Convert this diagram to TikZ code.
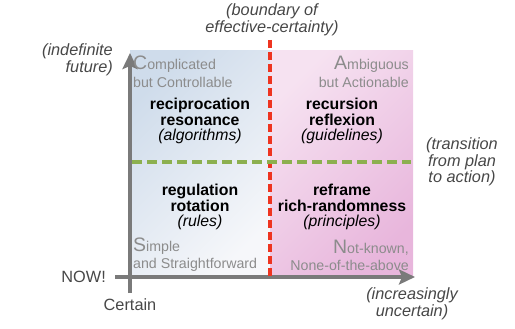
\documentclass[tikz,border=0pt]{standalone}
\usepackage{fontspec}
\setmainfont{Liberation Sans}
\usetikzlibrary{arrows.meta,positioning}
\definecolor{axisgray}{HTML}{7A7A7A}
\definecolor{notegray}{HTML}{474747}
\definecolor{zonegray}{HTML}{8C8C8C}
\definecolor{edgered}{HTML}{EE3420}
\definecolor{plangreen}{HTML}{8CB04F}
\definecolor{certblue}{HTML}{CFDCEB}
\definecolor{certwhite}{HTML}{F6F7FA}
\definecolor{vaguepink}{HTML}{E8B6DC}
\definecolor{palepink}{HTML}{F6E2F1}
\newcommand\zonecap[1]{{\fontsize{19.5}{17.5}\selectfont #1}}

\begin{document}
\begin{tikzpicture}[x=1pt, y=-1pt,
  note/.style={font=\fontsize{16.3}{16.5}\selectfont\itshape, text=notegray, align=center, inner sep=0pt},
  zone/.style={font=\fontsize{14.2}{17.5}\selectfont, text=zonegray, inner sep=0pt},
  move/.style={font=\fontsize{15.8}{15.5}\selectfont\bfseries, align=center, inner sep=0pt},
  axis/.style={line width=4pt, axisgray, -{Stealth[length=16pt, width=15pt, inset=3pt]}},
  cut/.style={line width=3.2pt, dash pattern=on 8pt off 4pt}]
  \useasboundingbox (0,0) rectangle (515,329);

  % the two halves of the field
  \shade[top color=certblue, bottom color=certwhite, shading angle=45] (130,51) rectangle (270,277);
  \shade[top color=palepink, bottom color=vaguepink, shading angle=45] (270,51) rectangle (413,277);

  % axes
  \coordinate (origin) at (130,277);
  \coordinate (vbot) at (130,293);
  \coordinate (vtop) at (130,53);
  \coordinate (hleft) at (115,277);
  \coordinate (hright) at (415,277);
  \draw[axis] (vbot) -- (vtop);
  \draw[axis] (hleft) -- (hright);

  % boundaries
  \coordinate (redtop) at (270,40);
  \coordinate (redbot) at (270,276);
  \coordinate (greenl) at (132,162);
  \coordinate (greenr) at (411,162);
  \draw[cut, edgered] (redtop) -- (redbot);
  \draw[cut, plangreen, dash pattern=on 10pt off 5pt] (greenl) -- (greenr);

  % axis notes
  \node[note] (bound) at (272,20) {(boundary of\\effective-certainty)};
  \node[note, align=right, anchor=east] (future) at (113,60) {(indefinite\\future)};
  \node[note] (trans) at (462,162) {(transition\\from plan\\to action)};
  \node[note] (uncert) at (412,304) {(increasingly\\uncertain)};
  \node[note, font=\fontsize{16.3}{16.5}\selectfont, left=9pt of hleft] (now) {NOW!};
  \node[note, font=\fontsize{16.3}{16.5}\selectfont] (certain) at (130,305) {Certain};

  % quadrant names
  \node[zone, align=left, anchor=north west] (compl) at (133,56) {\zonecap{C}omplicated\\but Controllable};
  \node[zone, align=right, anchor=north east] (ambig) at (409,56) {\zonecap{A}mbiguous\\but Actionable};
  \node[zone, align=left, anchor=south west] (simple) at (133,272) {\zonecap{S}imple\\and Straightforward};
  \node[zone, align=right, anchor=south east] (notknown) at (409,271) {\zonecap{N}ot-known,\\None-of-the-above};

  % quadrant contents
  \node[move] (algo) at (200,121) {reciprocation\\resonance\\\mdseries\itshape(algorithms)};
  \node[move] (guide) at (342,121) {recursion\\reflexion\\\mdseries\itshape(guidelines)};
  \node[move] (rules) at (200,207) {regulation\\rotation\\\mdseries\itshape(rules)};
  \node[move] (princ) at (342,207) {reframe\\rich-randomness\\\mdseries\itshape(principles)};
\end{tikzpicture}
\end{document}
